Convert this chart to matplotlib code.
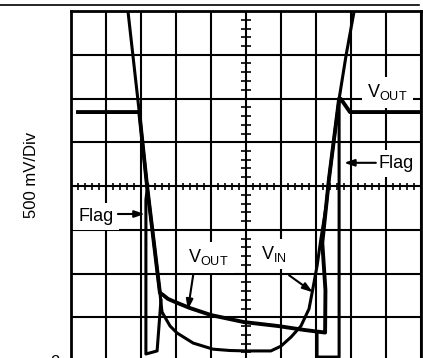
import numpy as np
import matplotlib
matplotlib.use('Agg')
import matplotlib.pyplot as plt
from matplotlib.lines import Line2D

plt.rcParams['font.family'] = ['Liberation Sans', 'DejaVu Sans']

# scope screen: 10 horizontal x 8 vertical divisions, values in divisions
VIN_T = [1.56, 1.95, 2.17, 2.54, 2.60, 2.83, 3.03, 3.49, 4.06, 4.54, 5.03, 5.71,
         6.00, 6.29, 6.57, 6.80, 6.91, 7.03, 7.14, 7.29, 7.37, 7.66, 7.86, 8.09, 8.14]
VIN_V = [8.48, 5.69, 4.02, 1.56, 1.12, 0.80, 0.64, 0.41, 0.27, 0.24, 0.23, 0.23,
         0.34, 0.55, 0.80, 1.19, 1.65, 2.17, 2.79, 3.54, 4.16, 5.99, 6.99, 8.00, 8.48]

VOUT_T = [0.20, 1.95, 2.17, 2.54, 2.63, 2.77, 3.03, 3.40, 4.00, 4.94, 5.91, 6.66,
          7.26, 7.27, 7.18, 7.29, 7.37, 7.66, 7.71, 7.97, 10.2]
VOUT_V = [5.69, 5.69, 4.02, 1.56, 1.51, 1.42, 1.33, 1.21, 1.05, 0.89, 0.80, 0.71,
          0.65, 1.62, 2.70, 3.54, 4.16, 5.99, 5.99, 5.69, 5.69]

FLAG_T = [2.19, 2.14, 2.14, 2.46, 2.57, np.nan, 7.03, 7.03, 7.66, 7.66]
FLAG_V = [4.02, 3.68, 0.16, 0.23, 1.39, np.nan, 0.66, 0.09, 0.09, 5.99]

VOUT = 'V$_{\\mathregular{OUT}}$'
VIN = 'V$_{\\mathregular{IN}}$'

# label text, (x, y) of its baseline, alignment
LABELS = [
    ('Flag', 0.71, 3.20, 'center'),
    ('Flag', 9.29, 4.41, 'center'),
    (VOUT, 8.46, 6.03, 'left'),
    (VOUT, 3.34, 2.26, 'left'),
    (VIN, 5.43, 2.33, 'left'),
]
# arrow tail -> head
ARROWS = [
    ((1.34, 3.36), (2.11, 3.36)),
    ((8.71, 4.53), (7.80, 4.53)),
    ((3.49, 1.96), (3.34, 1.17)),
    ((6.23, 1.96), (6.91, 1.57)),
]


def draw_screen(ax):
    ax.set_xlim(0, 10)
    ax.set_ylim(0, 8)
    ax.set_xticks(np.arange(11))
    ax.set_yticks(np.arange(9))
    ax.grid(True, color='black', lw=1.5)
    ax.tick_params(length=0, labelbottom=False, labelleft=False)
    for s in ax.spines.values():
        s.set_linewidth(2)
    # minor ticks on the centre cross
    ax.vlines(np.arange(0, 10.01, 0.2), 3.92, 4.08, color='black', lw=1.2)
    ax.hlines(np.arange(0, 8.01, 0.2), 4.87, 5.13, color='black', lw=1.2)


fig = plt.figure(figsize=(4.23, 3.58), dpi=100)
ax = fig.add_axes([71 / 423, -3 / 358, 350 / 423, 350 / 358])
draw_screen(ax)

ax.plot(VIN_T, VIN_V, color='black', lw=2.2, zorder=4, solid_joinstyle='round')
ax.plot(VOUT_T, VOUT_V, color='black', lw=2.8, zorder=4, solid_joinstyle='round')
ax.plot(FLAG_T, FLAG_V, color='black', lw=2.2, zorder=4)

box = dict(boxstyle='square,pad=0.3', fc='white', ec='none')
for text, x, y, ha in LABELS:
    ax.text(x, y, text, ha=ha, va='baseline', fontsize=13, zorder=3, bbox=box)

for tail, head in ARROWS:
    ax.annotate('', xy=head, xytext=tail, zorder=5,
                arrowprops=dict(arrowstyle='-|>,head_length=0.6,head_width=0.2',
                                color='black', lw=1.5, shrinkA=0, shrinkB=0))

fig.text(31 / 423, 0.51, '500 mV/Div', rotation=90, ha='center', va='center',
         fontsize=12)
fig.text(55 / 423, 0.008, '2', ha='center', va='top', fontsize=12)
fig.add_artist(Line2D([0, 419 / 423], [1 - 5 / 358] * 2, color='black', lw=1.2))

fig.savefig('out.png', dpi=100)
